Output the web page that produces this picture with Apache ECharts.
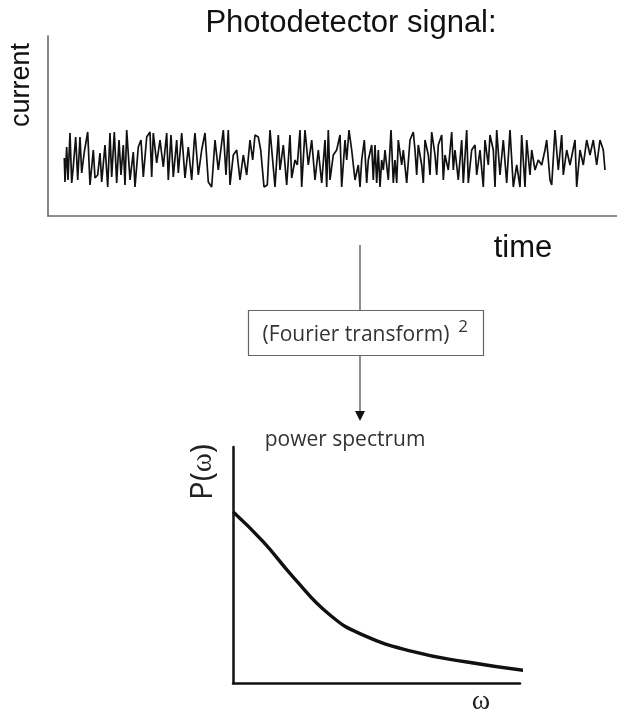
<!DOCTYPE html>
<html>
<head>
<meta charset="utf-8">
<script src="https://cdn.jsdelivr.net/npm/echarts@6/dist/echarts.min.js"></script>
<style>
  html, body { margin: 0; padding: 0; background: #fff; }
  #chart { width: 617px; height: 715px; }
</style>
</head>
<body>
<div id="chart"></div>
<script>
// Photodetector current trace: sample times and current (arbitrary units)
const signalTime = [
  16.3,17,18.7,20,22,23.7,25,27.7,29.7,32,33.7,36.3,39.7,42,45.3,47,49.7,52,53.7,57,
  59.7,62,63.7,66.3,68.7,71,73,75.3,77,78.7,82,85.3,87,90.3,93,95.3,98.7,102,103.7,105.3,
  108.7,112,115.3,118.7,120.3,123,125.3,128.7,130.3,133.7,137,140.3,143.7,146.3,
  147,150.3,153.7,157,160.3,163.7,167,170.3,175.3,178,180.3,182,185.3,188.7,192,195.3,
  198.7,202,204.7,207,210.3,212.7,216,219.3,222,227,230.3,232,235.3,238.7,242,243.7,
  247,249.3,252,253.7,257,260.3,263.7,267,270.3,273.7,277,278.7,
  280.3,282,285.3,288.7,292,293.7,297,298.7,301,303.7,307,310.3,312,313.7,316.3,318.7,
  320.3,323.7,325.3,327,328.7,330.3,332,333.7,335.3,337,340.3,343,345.3,347,348.7,350.3,
  353.7,355.3,358.7,362,365.3,367,368.7,370.3,373.7,375.3,377,380.3,382,383.7,387,388.7,
  390.3,393.7,395.3,397,400.3,403.7,405.3,407,410.3,413.7,415.3,
  418.7,420.3,423.7,427,428.7,432,435.3,437,440.3,442,445.3,447,448.7,452,455.3,458.7,
  462,465.3,468.7,472,473.7,477,478.7,482,483.7,487,490.3,493.7,497,498.7,502,503.7,
  507,510.3,513.7,515.3,518.7,522,527,528.7,532,535.3,538.7,542,545.3,548.7,552,555.3,557
];
const signalCurrent = [
  58,34,69,36,83,33,46,79,36,79,43,64,84,31,66,38,41,63,34,71,
  29,83,39,84,33,76,41,71,31,86,36,64,29,69,76,39,79,84,39,83,
  53,76,49,83,36,81,39,76,43,83,38,69,36,76,
  83,41,66,83,34,29,76,46,86,41,86,31,61,66,36,61,
  41,76,56,81,79,66,29,31,86,29,81,46,71,31,81,38,
  56,51,86,29,86,51,76,36,66,33,76,29,
  86,36,61,66,81,29,76,56,86,66,36,51,29,56,76,33,
  56,71,36,71,33,66,29,56,46,66,36,86,33,56,33,76,
  51,66,33,76,84,66,41,71,51,33,76,61,41,84,61,41,
  71,81,36,61,46,84,46,66,36,76,33,
  86,33,66,71,41,66,29,76,51,81,66,29,86,41,76,33,
  86,29,51,29,81,29,76,41,66,46,56,51,66,76,36,31,
  86,46,81,41,66,51,76,29,66,51,76,61,76,51,76,66,46
];

// Power spectrum: frequency and power (arbitrary units)
const spectrumOmega = [0, 10.5, 20.9, 33.8, 45.4, 62.8, 81.0, 102.3];
const spectrumPower = [72.6, 59.9, 45.0, 28.8, 20.3, 13.3, 9.0, 5.2];

// Text labels
const titleText = 'Photodetector signal:';
const signalYLabel = 'current';
const signalXLabel = 'time';
const transformLabel = '(Fourier transform)';
const transformPower = '2';
const spectrumTitle = 'power spectrum';
const spectrumXLabel = 'ω';

const SANS = '"Liberation Sans", Arial, sans-serif';
const UI = '"Open Sans", "Noto Sans", sans-serif';
const SERIF = '"Liberation Serif", "DejaVu Serif", serif';

const signalData = signalTime.map((t, i) => [t, signalCurrent[i]]);
const spectrumData = spectrumOmega.map((w, i) => [w, spectrumPower[i]]);

function label(text, x, y, font, opts) {
  opts = opts || {};
  return {
    type: 'text',
    x: x, y: y,
    rotation: opts.rotation || 0,
    silent: true,
    style: Object.assign({
      text: text,
      font: font,
      fill: opts.fill || '#111',
      align: 'center',
      verticalAlign: 'middle',
      textAlign: 'center',
      textVerticalAlign: 'middle'
    }, opts.style || {})
  };
}

const chart = echarts.init(document.getElementById('chart'), null, { renderer: 'canvas' });

chart.setOption({
  animation: false,
  backgroundColor: '#fff',
  grid: [
    { left: 48, right: 0, top: 36, height: 180 },
    { left: 233, width: 287, top: 447, height: 236 }
  ],
  xAxis: [
    {
      gridIndex: 0, type: 'value', min: 0, max: 569,
      axisLine: { show: true, lineStyle: { color: '#6a6a6a', width: 1.6 } },
      axisTick: { show: false }, axisLabel: { show: false }, splitLine: { show: false }
    },
    {
      gridIndex: 1, type: 'value', min: 0, max: 100,
      axisLine: { show: true, lineStyle: { color: '#111', width: 2.5 } },
      axisTick: { show: false }, axisLabel: { show: false }, splitLine: { show: false }
    }
  ],
  yAxis: [
    {
      gridIndex: 0, type: 'value', min: 0, max: 180,
      axisLine: { show: true, lineStyle: { color: '#6a6a6a', width: 1.6 } },
      axisTick: { show: false }, axisLabel: { show: false }, splitLine: { show: false }
    },
    {
      gridIndex: 1, type: 'value', min: 0, max: 100,
      axisLine: { show: true, lineStyle: { color: '#111', width: 2.5 } },
      axisTick: { show: false }, axisLabel: { show: false }, splitLine: { show: false }
    }
  ],
  series: [
    {
      type: 'line', xAxisIndex: 0, yAxisIndex: 0,
      data: signalData, showSymbol: false, smooth: false,
      lineStyle: { color: '#111', width: 1.7 }
    },
    {
      type: 'line', xAxisIndex: 1, yAxisIndex: 1,
      data: spectrumData, showSymbol: false, smooth: 0.5, clip: false,
      lineStyle: { color: '#111', width: 3.4 }
    }
  ],
  graphic: [
    label(titleText, 351, 23, '31px ' + SANS),
    label(signalYLabel, 22, 85, '27px ' + SANS, { rotation: Math.PI / 2 }),
    label(signalXLabel, 523, 248, '31px ' + SANS),

    // flow arrow between the two panels
    { type: 'line', silent: true, shape: { x1: 360, y1: 245, x2: 360, y2: 310 },
      style: { stroke: '#444', lineWidth: 1.2 } },
    { type: 'rect', silent: true, shape: { x: 248.5, y: 310.5, width: 235, height: 45 },
      style: { fill: '#fff', stroke: '#666', lineWidth: 1.2 } },
    { type: 'line', silent: true, shape: { x1: 360, y1: 356, x2: 360, y2: 413 },
      style: { stroke: '#444', lineWidth: 1.2 } },
    { type: 'polygon', silent: true, shape: { points: [[355, 411], [365, 411], [360, 421]] },
      style: { fill: '#111' } },
    label(transformLabel, 356, 335, '21px ' + UI, { fill: '#333' }),
    label(transformPower, 463, 327, '17px ' + UI, { fill: '#333' }),

    label(spectrumTitle, 345, 440, '21px ' + UI, { fill: '#333' }),
    {
      type: 'text', x: 203, y: 472, rotation: Math.PI / 2, silent: true,
      style: {
        text: '{a|P(}{b|ω}{a|)}',
        align: 'center', verticalAlign: 'middle',
        textAlign: 'center', textVerticalAlign: 'middle',
        fill: '#222',
        rich: {
          a: { font: '31px ' + UI, fill: '#222' },
          b: { font: '29px ' + SERIF, fill: '#222' }
        }
      }
    },
    label(spectrumXLabel, 481, 702, '28px ' + SERIF, { fill: '#222' })
  ]
});
</script>
</body>
</html>
